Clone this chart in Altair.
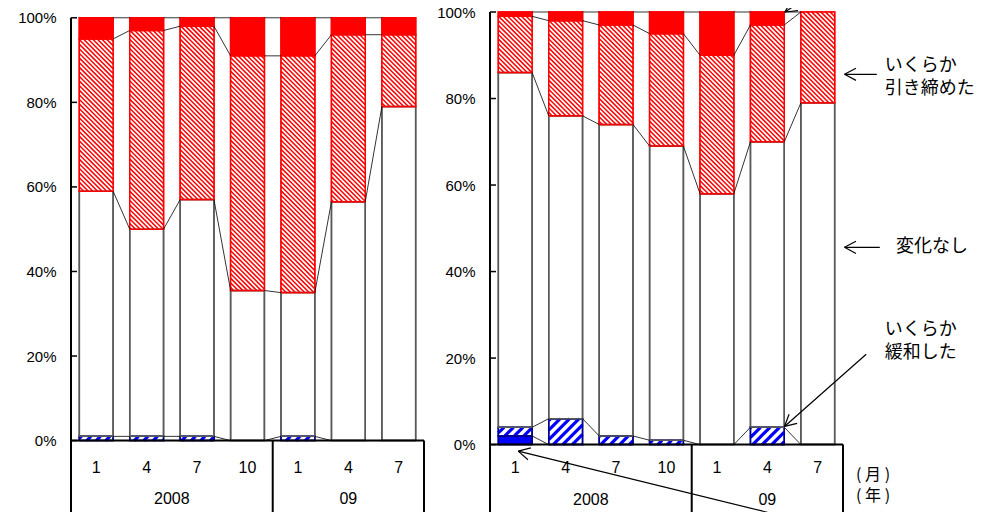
import math
import altair as alt
import pandas as pd

# ---------------- data ----------------
months = ["1", "4", "7", "10", "1", "4", "7"]
years = ["2008", "09"]
year_first = [0, 4]
year_last = [3, 6]
series = ["大幅に緩和した", "いくらか緩和した", "変化なし", "いくらか引き締めた", "大幅に引き締めた"]

# left panel (%)
left_ease_large = [0, 0, 0, 0, 0, 0, 0]
left_ease_some = [1, 1, 1, 0, 1, 0, 0]
left_no_change = [58, 49, 56, 35.5, 34, 56.5, 79]
left_tight_some = [36, 47, 41, 55.5, 56, 39.5, 17]
left_tight_large = [5, 3, 2, 9, 9, 4, 4]

# right panel (%)
right_ease_large = [2, 0, 0, 0, 0, 0, 0]
right_ease_some = [2, 6, 2, 1, 0, 4, 0]
right_no_change = [82, 70, 72, 68, 58, 66, 79]
right_tight_some = [13, 22, 23, 26, 32, 27, 21]
right_tight_large = [1, 2, 3, 5, 10, 3, 0]

y_ticks = [0, 20, 40, 60, 80, 100]

# ---------------- styling ----------------
fills = ["#0000ff", "#ffffff", "#ffffff", "#ff0000", "#ff0000"]
strokes = ["#00008b", "#00008b", "#595959", "#ff0000", "#ff0000"]
NUM_FONT = "Liberation Sans"
JP_FONT = "Noto Sans CJK JP"

N = len(months)
PW = 353
SX = PW / N
HW = 0.335
XS = alt.Scale(domain=[-0.5, N - 0.5], nice=False, zero=False)


def hatch_segments(x0, x1, y0, y1, sy, period, back):
    p0, p1 = x0 * SX, x1 * SX
    q0, q1 = y0 * sy, y1 * sy
    segs = []
    if back:  # "\" lines : P + Q = c
        c = math.ceil((p0 + q0) / period) * period
        while c <= p1 + q1:
            pa, pb = max(p0, c - q1), min(p1, c - q0)
            if pb > pa:
                segs.append(dict(x=pa / SX, y=(c - pa) / sy, x2=pb / SX, y2=(c - pb) / sy))
            c += period
    else:  # "/" lines : P - Q = c
        c = math.ceil((p0 - q1) / period) * period
        while c <= p1 - q0:
            pa, pb = max(p0, c + q0), min(p1, c + q1)
            if pb > pa:
                segs.append(dict(x=pa / SX, y=(pa - c) / sy, x2=pb / SX, y2=(pb - c) / sy))
            c += period
    return segs


def arrow_segments(tip, tail, sy, length=13, ang=28):
    tp = (tip[0] * SX, tip[1] * sy)
    tl = (tail[0] * SX, tail[1] * sy)
    dx, dy = tl[0] - tp[0], tl[1] - tp[1]
    d = math.hypot(dx, dy)
    ux, uy = dx / d, dy / d
    segs = [dict(x=tip[0], y=tip[1], x2=tail[0], y2=tail[1])]
    for s in (1, -1):
        a = math.radians(ang * s)
        wx = ux * math.cos(a) - uy * math.sin(a)
        wy = ux * math.sin(a) + uy * math.cos(a)
        segs.append(dict(x=tip[0], y=tip[1],
                         x2=(tp[0] + length * wx) / SX, y2=(tp[1] + length * wy) / sy))
    return segs


def panel(vals, height, ymax, dy_month, dy_year, arrows=None, texts=None, unit_texts=None):
    sy = height / ymax
    YS = alt.Scale(domain=[0, ymax], nice=False, zero=False)
    yaxis = alt.Axis(values=y_ticks, labelExpr="datum.value + '%'", ticks=False, domain=False,
                     grid=False, labelPadding=15, labelFontSize=15, labelFont=NUM_FONT,
                     labelColor="black", title=None)

    def X(f="x"):
        return alt.X(f"{f}:Q", scale=XS, axis=None)

    def Y(f="y"):
        return alt.Y(f"{f}:Q", scale=YS, axis=yaxis)

    run = [0.0] * N
    rows, cum = [], []
    red_h, blue_h = [], []
    for k, s in enumerate(series):
        for i in range(N):
            v = vals[k][i]
            y0, y1 = run[i], run[i] + v
            if v > 0:
                rows.append(dict(series=s, x=i - HW, x2=i + HW, y=y0, y2=y1))
                if s == "いくらか引き締めた":
                    red_h += hatch_segments(i - HW, i + HW, y0, y1, sy, 4.6, True)
                if s == "いくらか緩和した":
                    blue_h += hatch_segments(i - HW, i + HW, y0, y1, sy, 9.5, False)
            run[i] = y1
        cum.append(list(run))
    bars_df = pd.DataFrame(rows)

    fill_enc = alt.Fill("series:N", scale=alt.Scale(domain=series, range=fills), legend=None)
    stroke_enc = alt.Stroke("series:N", scale=alt.Scale(domain=series, range=strokes), legend=None)

    bars = alt.Chart(bars_df).mark_rect(strokeWidth=1.5).encode(
        x=X(), x2="x2", y=Y(), y2="y2", fill=fill_enc, stroke=stroke_enc)
    layers = [bars]
    if red_h:
        layers.append(alt.Chart(pd.DataFrame(red_h)).mark_rule(color="white", strokeWidth=1.75)
                      .encode(x=X(), y=Y(), x2="x2", y2="y2"))
    if blue_h:
        layers.append(alt.Chart(pd.DataFrame(blue_h)).mark_rule(color="#0000ff", strokeWidth=3.2)
                      .encode(x=X(), y=Y(), x2="x2", y2="y2"))
    layers.append(alt.Chart(bars_df).mark_rect(strokeWidth=1.5, fillOpacity=0).encode(
        x=X(), x2="x2", y=Y(), y2="y2", stroke=stroke_enc))

    conn = []
    for k in range(len(series)):
        for i in range(N - 1):
            conn.append(dict(x=i + HW, x2=i + 1 - HW, y=cum[k][i], y2=cum[k][i + 1]))
    layers.append(alt.Chart(pd.DataFrame(conn)).mark_rule(color="black", strokeWidth=0.8)
                  .encode(x=X(), x2="x2", y=Y(), y2="y2"))

    # y axis line + inside ticks
    layers.append(alt.Chart(pd.DataFrame({"y": [100]})).mark_rule(color="black", strokeWidth=2)
                  .encode(x=alt.value(0), y=Y(), y2=alt.value(height + 120)))
    layers.append(alt.Chart(pd.DataFrame({"y": y_ticks})).mark_rule(color="black", strokeWidth=1.5)
                  .encode(x=alt.value(0), x2=alt.value(6), y=Y()))
    # category table
    layers.append(alt.Chart(pd.DataFrame({"x": [-0.5], "x2": [N - 0.5], "y": [0]}))
                  .mark_rule(color="black", strokeWidth=2).encode(x=X(), x2="x2", y=Y()))
    seps = [year_last[0] + 0.5, N - 0.5]
    layers.append(alt.Chart(pd.DataFrame({"x": seps, "y": [0] * len(seps)}))
                  .mark_rule(color="black", strokeWidth=2)
                  .encode(x=X(), y=Y(), y2=alt.value(height + 120)))
    mdf = pd.DataFrame({"x": list(range(N)), "y": [0] * N, "label": months})
    layers.append(alt.Chart(mdf).mark_text(dy=dy_month, fontSize=16, font=NUM_FONT, baseline="middle",
                                           color="black")
                  .encode(x=X(), y=Y(), text="label:N"))
    ydf = pd.DataFrame({"x": [(a + b) / 2 for a, b in zip(year_first, year_last)],
                        "y": [0] * len(years), "label": years})
    layers.append(alt.Chart(ydf).mark_text(dy=dy_year, fontSize=16, font=NUM_FONT, baseline="middle",
                                           color="black")
                  .encode(x=X(), y=Y(), text="label:N"))

    if arrows:
        segs = []
        for tip, tail in arrows:
            segs += arrow_segments(tip, tail, sy)
        layers.append(alt.Chart(pd.DataFrame(segs)).mark_rule(color="black", strokeWidth=1.2)
                      .encode(x=X(), x2="x2", y=Y(), y2="y2"))
    if texts:
        tdf = pd.DataFrame(texts, columns=["x", "y", "label"])
        layers.append(alt.Chart(tdf).mark_text(align="left", baseline="middle", fontSize=18,
                                               font=JP_FONT, color="black", lineBreak="\n",
                                               lineHeight=23)
                      .encode(x=X(), y=Y(), text="label:N"))
    if unit_texts:
        udf = pd.DataFrame(unit_texts, columns=["x", "y", "label"])
        layers.append(alt.Chart(udf).mark_text(align="left", baseline="middle", fontSize=16,
                                               font=JP_FONT, color="black", lineBreak="\n",
                                               lineHeight=21)
                      .encode(x=X(), y=Y(), text="label:N"))

    return alt.layer(*layers).properties(width=PW, height=height)


left_vals = [left_ease_large, left_ease_some, left_no_change, left_tight_some, left_tight_large]
right_vals = [right_ease_large, right_ease_some, right_no_change, right_tight_some, right_tight_large]

annot_arrows = [
    ((6.53, 85.6), (7.17, 85.6)),
    ((6.53, 45.6), (7.23, 45.6)),
    ((5.34, 4.2), (6.96, 20.9)),
    ((5.35, 100.0), (5.67, 102.5)),
    ((0.06, -1.5), (5.47, -17.0)),
]
# y = position of the first line of each label
annot_texts = [
    (7.33, 87.6, "いくらか\n引き締めた"),
    (7.55, 45.6, "変化なし"),
    (7.33, 26.5, "いくらか\n緩和した"),
]
unit_texts = [
    (6.76, -7.0, "( 月 )\n( 年 )"),
]

left = panel(left_vals, 428.6, 101.37, 27.2, 58.5)
right = panel(right_vals, 432.6, 100, 23.7, 55, annot_arrows, annot_texts, unit_texts)

chart = alt.hconcat(left, right, spacing=66, bounds="flush").properties(
    padding={"left": 9, "top": -9, "right": 5, "bottom": 5}
).configure_view(stroke=None)

chart.save("out.html", embed_options={"renderer": "svg", "actions": False})
